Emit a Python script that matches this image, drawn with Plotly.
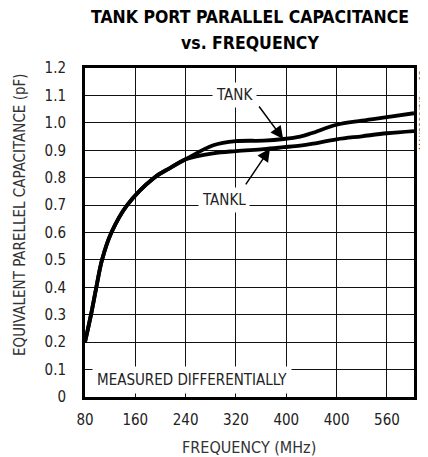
import plotly.graph_objects as go

freq = [80, 89.5, 98, 107, 122, 147, 190, 215, 240, 284, 320, 364, 396, 422, 440, 480, 520, 560, 603]
tank = [0.20, 0.30, 0.40, 0.50, 0.60, 0.70, 0.80, 0.835, 0.867, 0.918, 0.933, 0.935, 0.941, 0.950, 0.962, 0.993, 1.008, 1.021, 1.035]
tankl = [0.20, 0.30, 0.40, 0.50, 0.60, 0.70, 0.80, 0.835, 0.867, 0.889, 0.897, 0.904, 0.911, 0.917, 0.923, 0.940, 0.951, 0.962, 0.970]

x_tickvals = [80, 160, 240, 320, 400, 480, 560]
x_ticktext = ["80", "160", "240", "320", "400", "400", "560"]
y_tickvals = [0, 0.1, 0.2, 0.3, 0.4, 0.5, 0.6, 0.7, 0.8, 0.9, 1.0, 1.1, 1.2]
y_ticktext = ["0", "0.1", "0.2", "0.3", "0.4", "0.5", "0.6", "0.7", "0.8", "0.9", "1.0", "1.1", "1.2"]

FONT = "DejaVu Sans Condensed, Liberation Sans Narrow, Roboto, sans-serif"

fig = go.Figure()
fig.add_trace(go.Scatter(x=freq, y=tank, mode="lines", line=dict(color="black", width=3.8, shape="spline", smoothing=1.0), name="TANK"))
fig.add_trace(go.Scatter(x=freq, y=tankl, mode="lines", line=dict(color="black", width=3.8, shape="spline", smoothing=1.0), name="TANKL"))

# page body adds an 8px margin, so the figure is 8px smaller and offsets are reduced
fig.update_layout(
    width=420, height=449,
    margin=dict(l=77, r=14, t=60, b=60),
    paper_bgcolor="white", plot_bgcolor="white",
    showlegend=False,
    font=dict(family=FONT, color="#222", size=14),
)
fig.update_xaxes(range=[80, 603], tickvals=x_tickvals, ticktext=x_ticktext, automargin=False,
                 showgrid=True, gridcolor="#111", gridwidth=1.3,
                 showline=True, linecolor="black", linewidth=3, mirror=True,
                 ticks="outside", ticklen=7, tickcolor="rgba(0,0,0,0)",
                 tickfont=dict(family=FONT, size=15, color="#222"), zeroline=False)
fig.update_yaxes(range=[0, 1.2], tickvals=y_tickvals, ticktext=y_ticktext, automargin=False,
                 showgrid=True, gridcolor="#111", gridwidth=1.3,
                 showline=True, linecolor="black", linewidth=3, mirror=True,
                 ticks="outside", ticklen=13, tickcolor="rgba(0,0,0,0)",
                 tickfont=dict(family=FONT, size=15, color="#222"), zeroline=False)

def py(pix):
    return (397 - pix) / 329

def px(pix):
    return (pix - 85) / 329

# Title
fig.add_annotation(xref="paper", yref="paper", x=0.5, y=py(17), text="<b>TANK PORT PARALLEL CAPACITANCE</b>",
                   showarrow=False, font=dict(family=FONT, size=17.5, color="black"), xanchor="center", yanchor="middle")
fig.add_annotation(xref="paper", yref="paper", x=0.5, y=py(43), text="<b>vs. FREQUENCY</b>",
                   showarrow=False, font=dict(family=FONT, size=17.5, color="black"), xanchor="center", yanchor="middle")
# Axis titles
fig.add_annotation(xref="paper", yref="paper", x=px(20), y=py(215), text="EQUIVALENT PARELLEL CAPACITANCE (pF)",
                   textangle=-90, showarrow=False, font=dict(family=FONT, size=15, color="#333"),
                   xanchor="center", yanchor="middle")
fig.add_annotation(xref="paper", yref="paper", x=px(249), y=py(447), text="FREQUENCY (MHz)",
                   showarrow=False, font=dict(family=FONT, size=16, color="#333"), xanchor="center", yanchor="middle")
# Watermark
fig.add_annotation(xref="paper", yref="paper", x=1, y=1, xanchor="left", yanchor="top", xshift=2,
                   text="MAX2306/8/9 toc13", textangle=-90, showarrow=False,
                   font=dict(family=FONT, size=9, color="#555"))
# Labels
fig.add_annotation(x=318, y=1.1, text="TANK", showarrow=False, bgcolor="white", borderpad=3,
                   font=dict(family=FONT, size=15, color="#222"))
fig.add_annotation(x=301, y=0.72, text="TANKL", showarrow=False, bgcolor="white", borderpad=3,
                   font=dict(family=FONT, size=15, color="#222"))
fig.add_annotation(x=250, y=0.062, text="MEASURED DIFFERENTIALLY", showarrow=False, bgcolor="white", borderpad=4,
                   font=dict(family=FONT, size=15, color="#222"))
# Arrows
fig.add_annotation(x=395, y=0.941, ax=355, ay=1.065, axref="x", ayref="y", text="", showarrow=True,
                   arrowhead=2, arrowsize=1.7, arrowwidth=1.5, arrowcolor="black")
fig.add_annotation(x=374, y=0.906, ax=334, ay=0.77, axref="x", ayref="y", text="", showarrow=True,
                   arrowhead=2, arrowsize=1.7, arrowwidth=1.5, arrowcolor="black")

fig.write_html("out.html")
